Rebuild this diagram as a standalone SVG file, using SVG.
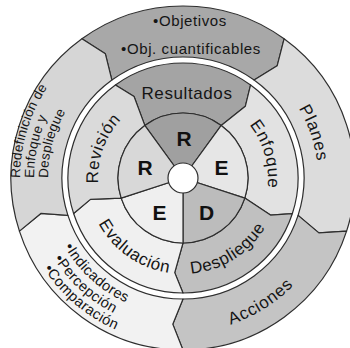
<svg xmlns="http://www.w3.org/2000/svg" width="350" height="348" viewBox="0 0 350 348">
<style>
.seg{stroke:#2e2e2e;stroke-width:1.2;stroke-linejoin:round}
.t{font-family:"Liberation Sans",Arial,sans-serif;fill:#151515}
.m{font-size:17px;letter-spacing:0.6px}
.o{font-size:17px;letter-spacing:0.8px}
.n{font-size:14.5px;letter-spacing:0.4px}
.r{font-size:13.5px;letter-spacing:0.2px}
.L{font-family:"Liberation Sans",Arial,sans-serif;font-size:21px;font-weight:bold;fill:#111;text-anchor:middle}
</style>
<defs>
<path id="pEnf" d="M203.56,95.52 A85 85 0 0 1 244.14,237.05"/>
<path id="pPla" d="M208.76,45.48 A135 135 0 0 1 284.88,266.57"/>
<path id="pRev" d="M117.89,232.64 A85 85 0 0 1 168.24,94.29"/>
<path id="pDes" d="M137.93,262.76 A96 96 0 0 0 278.94,174.65"/>
<path id="pEva" d="M87.37,169.63 A96 96 0 0 0 223.57,265"/>
<path id="pAcc" d="M110.70,313.97 A154 154 0 0 0 336.91,172.63"/>
<path id="pI1" d="M64.36,246.5 A137 137 0 0 0 251.5,296.64"/>
<path id="pI2" d="M54.10,258.54 A152 152 0 0 0 259,309.64"/>
<path id="pI3" d="M43.77,268.41 A166 166 0 0 0 266,321.76"/>
<path id="pR1" d="M20,178 A163 163 0 0 1 154.70,17.48"/>
<path id="pR2" d="M34,178 A149 149 0 0 1 157.13,31.27"/>
<path id="pR3" d="M48,178 A135 135 0 0 1 159.56,45.05"/>
</defs>

<g id="outer-objetivos">
<path class="seg" fill="#a8a8a8" d="M111.88,80.11 L105.37,53.77 L81.90,38.85 A172 172 0 0 1 284.10,38.85 L277.17,65.78 L254.12,80.11 A121 121 0 0 0 111.88,80.11 Z"/>
<text class="t" font-size="15" letter-spacing="0.6" x="190" y="26" text-anchor="middle">•Objetivos</text>
<text class="t" font-size="15" letter-spacing="0.6" x="191" y="54" text-anchor="middle">•Obj. cuantificables</text>
</g>
<g id="outer-planes">
<path class="seg" fill="#dcdcdc" d="M254.12,80.11 L277.17,65.78 L284.10,38.85 A172 172 0 0 1 346.59,231.15 L318.83,232.88 L298.08,215.39 A121 121 0 0 0 254.12,80.11 Z"/>
<text class="t o"><textPath href="#pPla" startOffset="50%" text-anchor="middle">Planes</textPath></text>
</g>
<g id="outer-acciones">
<path class="seg" fill="#c4c4c4" d="M298.08,215.39 L318.83,232.88 L346.59,231.15 A172 172 0 0 1 183,350 L172.77,324.15 L183,299 A121 121 0 0 0 298.08,215.39 Z"/>
<text class="t o"><textPath href="#pAcc" startOffset="50%" text-anchor="middle">Acciones</textPath></text>
</g>
<g id="outer-indicadores">
<path class="seg" fill="#f2f2f2" d="M183,299 L172.77,324.15 L183,350 A172 172 0 0 1 19.41,231.15 L40.85,213.44 L67.92,215.39 A121 121 0 0 0 183,299 Z"/>
<text class="t n"><textPath href="#pI1">•Indicadores</textPath></text>
<text class="t n"><textPath href="#pI2">•Percepción</textPath></text>
<text class="t n"><textPath href="#pI3">•Comparación</textPath></text>
</g>
<g id="outer-redefinicion">
<path class="seg" fill="#d6d6d6" d="M67.92,215.39 L40.85,213.44 L19.41,231.15 A172 172 0 0 1 81.90,38.85 L105.37,53.77 L111.88,80.11 A121 121 0 0 0 67.92,215.39 Z"/>
<text class="t r"><textPath href="#pR1">Redefinición de</textPath></text>
<text class="t r"><textPath href="#pR2">Enfoque y</textPath></text>
<text class="t r"><textPath href="#pR3">Despliegue</textPath></text>
</g>

<g id="mid-resultados">
<path class="seg" fill="#a4a4a4" d="M144.79,125.41 L134.07,96.57 L115.40,84.96 A115 115 0 0 1 250.60,84.96 L245.33,106.30 L221.21,125.41 A65 65 0 0 0 144.79,125.41 Z"/>
<text class="t m" x="187" y="99" text-anchor="middle">Resultados</text>
</g>
<g id="mid-enfoque">
<path class="seg" fill="#e2e2e2" d="M221.21,125.41 L245.33,106.30 L250.60,84.96 A115 115 0 0 1 292.38,213.54 L270.45,215.12 L244.82,198.09 A65 65 0 0 0 221.21,125.41 Z"/>
<text class="t m"><textPath href="#pEnf" startOffset="50%" text-anchor="middle">Enfoque</textPath></text>
</g>
<g id="mid-despliegue">
<path class="seg" fill="#c0c0c0" d="M244.82,198.09 L270.45,215.12 L292.38,213.54 A115 115 0 0 1 183,293 L174.72,272.64 L183,243 A65 65 0 0 0 244.82,198.09 Z"/>
<text class="t m"><textPath href="#pDes" startOffset="50%" text-anchor="middle">Despliegue</textPath></text>
</g>
<g id="mid-evaluacion">
<path class="seg" fill="#f0f0f0" d="M183,243 L174.72,272.64 L183,293 A115 115 0 0 1 73.62,213.54 L90.43,199.38 L121.18,198.09 A65 65 0 0 0 183,243 Z"/>
<text class="t m"><textPath href="#pEva" startOffset="50%" text-anchor="middle">Evaluación</textPath></text>
</g>
<g id="mid-revision">
<path class="seg" fill="#dadada" d="M121.18,198.09 L90.43,199.38 L73.62,213.54 A115 115 0 0 1 115.40,84.96 L134.07,96.57 L144.79,125.41 A65 65 0 0 0 121.18,198.09 Z"/>
<text class="t m"><textPath href="#pRev" startOffset="50%" text-anchor="middle">Revisión</textPath></text>
</g>

<g id="core-r-top">
<path class="seg" fill="#a0a0a0" d="M183,178 L144.79,125.41 A65 65 0 0 1 221.21,125.41 Z"/>
<text class="L" x="184" y="145.5">R</text>
</g>
<g id="core-e-right">
<path class="seg" fill="#e6e6e6" d="M183,178 L221.21,125.41 A65 65 0 0 1 244.82,198.09 Z"/>
<text class="L" x="221.5" y="175">E</text>
</g>
<g id="core-d">
<path class="seg" fill="#bcbcbc" d="M183,178 L244.82,198.09 A65 65 0 0 1 183,243 Z"/>
<text class="L" x="206.5" y="220">D</text>
</g>
<g id="core-e-left">
<path class="seg" fill="#efefef" d="M183,178 L183,243 A65 65 0 0 1 121.18,198.09 Z"/>
<text class="L" x="159.5" y="220">E</text>
</g>
<g id="core-r-left">
<path class="seg" fill="#d8d8d8" d="M183,178 L121.18,198.09 A65 65 0 0 1 144.79,125.41 Z"/>
<text class="L" x="145" y="175">R</text>
</g>
<g id="hub">
<circle class="seg" cx="183" cy="178" r="15" fill="#ffffff"/>
</g>
</svg>
